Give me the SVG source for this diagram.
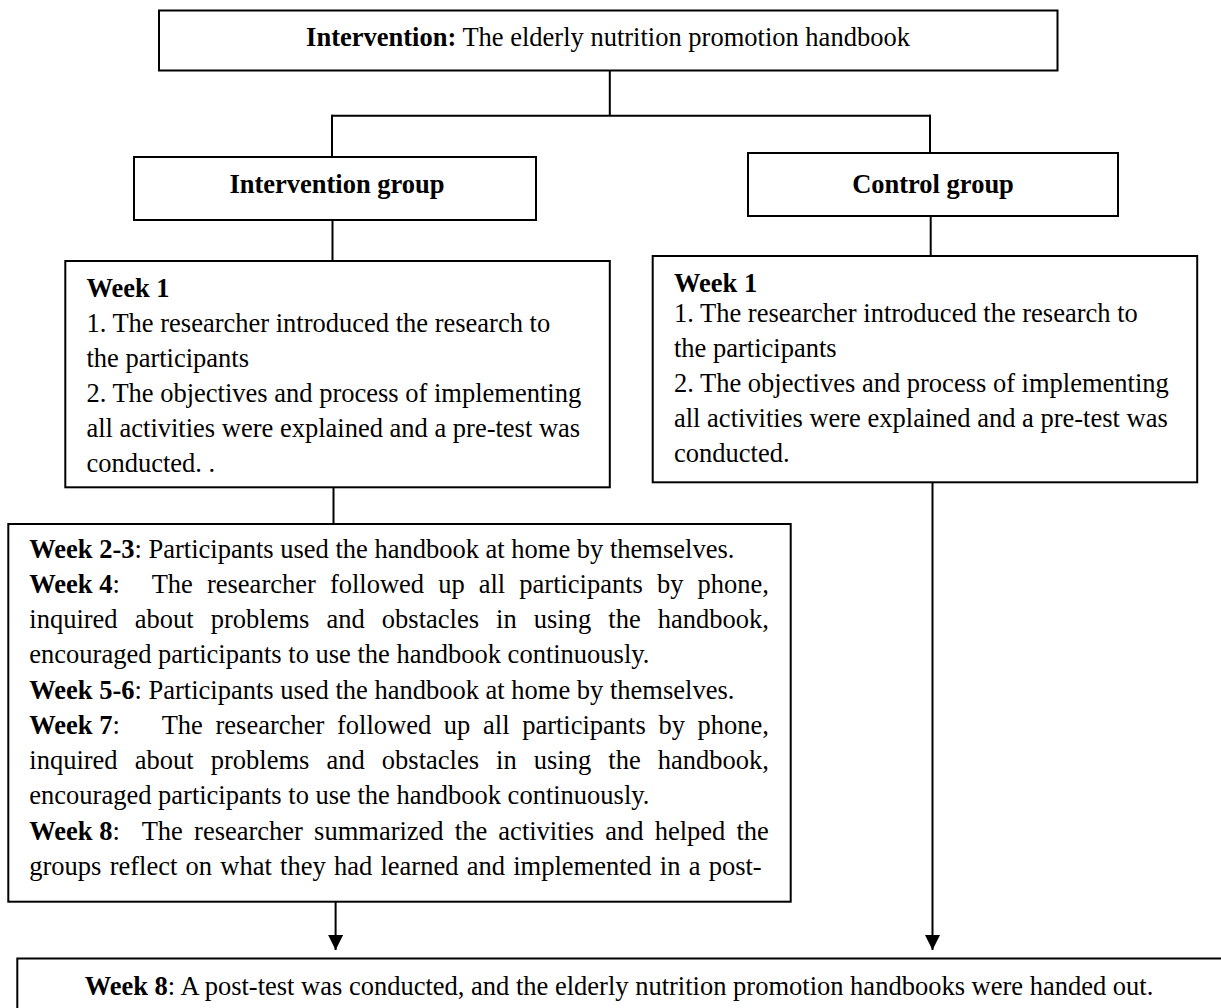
<svg xmlns="http://www.w3.org/2000/svg" width="1221" height="1008" viewBox="0 0 1221 1008">
<style>
  .box { fill: #ffffff; stroke: #000000; stroke-width: 2; }
  .ln { fill: none; stroke: #000000; stroke-width: 2; }
  text { font-family: "Liberation Serif", "Times New Roman", serif; font-size: 26.5px; fill: #000000; }
  .b { font-weight: bold; }
  .mid { text-anchor: middle; }
</style>
<defs>
  <marker id="arrow" viewBox="0 0 15 15" refX="15" refY="7.5" markerWidth="15" markerHeight="15" markerUnits="userSpaceOnUse" orient="auto">
    <path d="M0,0 L15,7.5 L0,15 z" fill="#000000"/>
  </marker>
</defs>
<rect x="0" y="0" width="1221" height="1008" fill="#ffffff"/>

<g id="connectors">
  <path class="ln" d="M609.8,70.5 V115.7"/>
  <path class="ln" d="M331.8,115.7 H930.5"/>
  <path class="ln" d="M332,114.7 V157"/>
  <path class="ln" d="M930,114.7 V153"/>
  <path class="ln" d="M332.5,220 V261"/>
  <path class="ln" d="M930.7,216 V256"/>
  <path class="ln" d="M333.5,487.3 V524"/>
  <path class="ln" d="M932.5,482.3 V950" marker-end="url(#arrow)"/>
  <path class="ln" d="M335.6,901.7 V950" marker-end="url(#arrow)"/>
</g>

<g id="intervention">
  <rect class="box" x="159" y="10.5" width="898.5" height="60"/>
  <text class="mid" x="608" y="46"><tspan class="b">Intervention:</tspan> The elderly nutrition promotion handbook</text>
</g>

<g id="intervention-group">
  <rect class="box" x="134" y="157" width="402" height="63"/>
  <text class="mid b" x="337" y="192.7">Intervention group</text>
</g>

<g id="control-group">
  <rect class="box" x="748" y="153" width="370" height="63"/>
  <text class="mid b" x="933" y="192.7">Control group</text>
</g>

<g id="intervention-week1">
  <rect class="box" x="65.3" y="261" width="544.5" height="226.3"/>
  <text class="b" x="86.4" y="297">Week 1</text>
  <text x="86.4" y="331.9">1. The researcher introduced the research to</text>
  <text x="86.4" y="366.8">the participants</text>
  <text x="86.4" y="401.7">2. The objectives and process of implementing</text>
  <text x="86.4" y="436.6">all activities were explained and a pre-test was</text>
  <text x="86.4" y="471.5">conducted. .</text>
</g>

<g id="control-week1">
  <rect class="box" x="652.7" y="256" width="544.5" height="226.3"/>
  <text class="b" x="674" y="291.7">Week 1</text>
  <text x="674" y="321.7">1. The researcher introduced the research to</text>
  <text x="674" y="356.7">the participants</text>
  <text x="674" y="391.7">2. The objectives and process of implementing</text>
  <text x="674" y="426.7">all activities were explained and a pre-test was</text>
  <text x="674" y="461.7">conducted.</text>
</g>

<g id="intervention-weeks">
  <rect class="box" x="8.3" y="524" width="782.4" height="377.7"/>
  <text x="29.3" y="557.5"><tspan class="b">Week 2-3</tspan>: Participants used the handbook at home by themselves.</text>
  <text x="29.3" y="592.75"><tspan class="b">Week 4</tspan>:<tspan x="151.7" style="word-spacing:7.45px">The researcher followed up all participants by phone,</tspan></text>
  <text x="29.3" y="628" style="word-spacing:10.49px">inquired about problems and obstacles in using the handbook,</text>
  <text x="29.3" y="663.25">encouraged participants to use the handbook continuously.</text>
  <text x="29.3" y="698.5"><tspan class="b">Week 5-6</tspan>: Participants used the handbook at home by themselves.</text>
  <text x="29.3" y="733.75"><tspan class="b">Week 7</tspan>:<tspan x="161.7" style="word-spacing:6.02px">The researcher followed up all participants by phone,</tspan></text>
  <text x="29.3" y="769" style="word-spacing:10.49px">inquired about problems and obstacles in using the handbook,</text>
  <text x="29.3" y="804.25">encouraged participants to use the handbook continuously.</text>
  <text x="29.3" y="839.5"><tspan class="b">Week 8</tspan>:<tspan x="141.7" style="word-spacing:4.56px">The researcher summarized the activities and helped the</tspan></text>
  <text x="29.3" y="874.75" style="word-spacing:1.62px">groups reflect on what they had learned and implemented in a post-</text>
</g>

<g id="post-test">
  <rect class="box" x="17.3" y="958.5" width="1220" height="60"/>
  <text class="mid" x="619" y="995"><tspan class="b">Week 8</tspan>: A post-test was conducted, and the elderly nutrition promotion handbooks were handed out.</text>
</g>
</svg>
